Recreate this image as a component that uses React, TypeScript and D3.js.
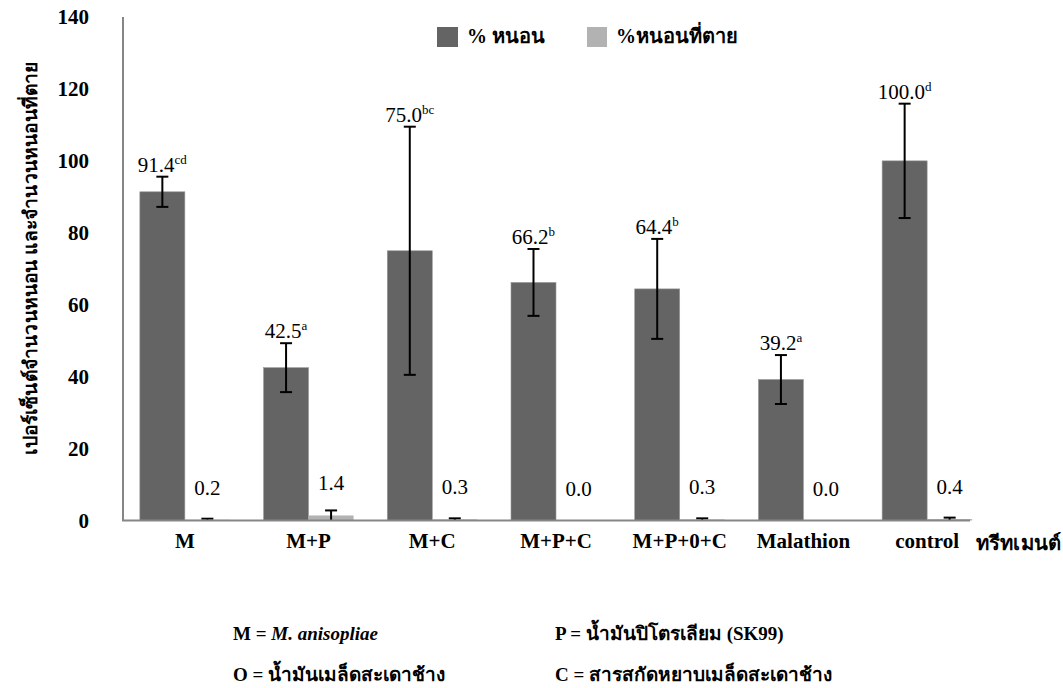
import React from "react";
import * as d3 from "d3";

const categories = ["M", "M+P", "M+C", "M+P+C", "M+P+0+C", "Malathion", "control"];
const larvaePct = [91.4, 42.5, 75.0, 66.2, 64.4, 39.2, 100.0];
const larvaeErr = [4.2, 6.8, 34.5, 9.3, 13.9, 6.8, 15.9];
const larvaeLetters = ["cd", "a", "bc", "b", "b", "a", "d"];
const deadPct = [0.2, 1.4, 0.3, 0.0, 0.3, 0.0, 0.4];
const deadErr = [0.3, 1.4, 0.3, 0.0, 0.3, 0.0, 0.4];
const yTicks = [0, 20, 40, 60, 80, 100, 120, 140];
const seriesNames = ["% หนอน", "%หนอนที่ตาย"];
const yTitle = "เปอร์เซ็นต์จำนวนหนอน และจำนวนหนอนที่ตาย";
const xTitle = "ทรีทเมนต์";

const FONT = "'Liberation Serif', 'Times New Roman', serif";
const DARK = "#646464";
const LIGHT = "#b2b2b2";

export default function App() {
  const W = 1063, H = 688;
  const y = d3.scaleLinear().domain([0, 140]).range([520.5, 17]);
  const x = d3.scaleBand<string>().domain(categories).range([123, 989]).paddingInner(0.2724).paddingOuter(0.1362);
  const x1 = d3.scaleBand<string>().domain(["dark", "light"]).range([0, x.bandwidth()]);
  const bw = x1.bandwidth();
  const cap = 6;

  return (
    <svg width={W} height={H} style={{ position: "absolute", left: 0, top: 0, background: "#fff" }} fontFamily={FONT}>
      {/* y ticks */}
      {yTicks.map((t) => (
        <text key={t} x={89} y={y(t)} dy="0.35em" textAnchor="end" fontSize={21} fontWeight="bold">{t}</text>
      ))}
      {/* y title */}
      <text transform={`translate(37,${258}) rotate(-90)`} textAnchor="middle" fontSize={19} fontWeight="bold"
        textLength={393} lengthAdjust="spacingAndGlyphs">{yTitle}</text>

      {/* bars */}
      {categories.map((c, i) => {
        const x0 = x(c)!;
        const xd = x0 + x1("dark")!;
        const xl = x0 + x1("light")!;
        const cd = xd + bw / 2;
        const cl = xl + bw / 2;
        const eTop = y(larvaePct[i] + larvaeErr[i]);
        const eBot = y(larvaePct[i] - larvaeErr[i]);
        const lTop = y(deadPct[i] + deadErr[i]);
        const lBot = y(Math.max(0, deadPct[i] - deadErr[i]));
        return (
          <g key={c}>
            <rect x={xd} y={y(larvaePct[i])} width={bw} height={y(0) - y(larvaePct[i])} fill={DARK} stroke="#9a9a9a" strokeWidth={0.6} />
            {deadPct[i] > 0 && (
              <rect x={xl} y={y(deadPct[i])} width={bw} height={y(0) - y(deadPct[i])} fill={LIGHT} />
            )}
            <g stroke="#000" strokeWidth={2}>
              <line x1={cd} x2={cd} y1={eTop} y2={eBot} />
              <line x1={cd - cap} x2={cd + cap} y1={eTop} y2={eTop} />
              <line x1={cd - cap} x2={cd + cap} y1={eBot} y2={eBot} />
              {deadErr[i] > 0 && (
                <>
                  <line x1={cl} x2={cl} y1={lTop} y2={lBot} />
                  <line x1={cl - cap} x2={cl + cap} y1={lTop} y2={lTop} />
                </>
              )}
            </g>
            <text x={cd} y={eTop - 5} textAnchor="middle" fontSize={21}>
              {larvaePct[i].toFixed(1)}
              <tspan fontSize={13} dy={-8}>{larvaeLetters[i]}</tspan>
            </text>
            <text x={cl} y={y(deadPct[i]) - 25} textAnchor="middle" fontSize={21}>{deadPct[i].toFixed(1)}</text>
            <text x={x0 + x.bandwidth() / 2} y={548} textAnchor="middle" fontSize={21} fontWeight="bold">{c}</text>
          </g>
        );
      })}

      {/* axes lines */}
      <line x1={123} x2={123} y1={17} y2={521} stroke="#868686" strokeWidth={2} />
      <line x1={122} x2={970} y1={520.5} y2={520.5} stroke="#868686" strokeWidth={2} />

      {/* x title */}
      <text x={1061} y={550} textAnchor="end" fontSize={20} fontWeight="bold" textLength={85} lengthAdjust="spacingAndGlyphs">{xTitle}</text>

      {/* legend */}
      <rect x={437} y={27} width={21} height={20} fill={DARK} />
      <text x={467} y={43} fontSize={20} fontWeight="bold">{seriesNames[0]}</text>
      <rect x={587} y={27} width={20} height={20} fill={LIGHT} />
      <text x={616} y={43} fontSize={20} fontWeight="bold">{seriesNames[1]}</text>

      {/* footnotes */}
      <g fontSize={19} fontWeight="bold">
        <text x={233} y={640}>M = <tspan fontStyle="italic">M. anisopliae</tspan></text>
        <text x={555} y={640}>P = น้ำมันปิโตรเลียม (SK99)</text>
        <text x={233} y={681}>O = น้ำมันเมล็ดสะเดาช้าง</text>
        <text x={555} y={681}>C = สารสกัดหยาบเมล็ดสะเดาช้าง</text>
      </g>
    </svg>
  );
}
